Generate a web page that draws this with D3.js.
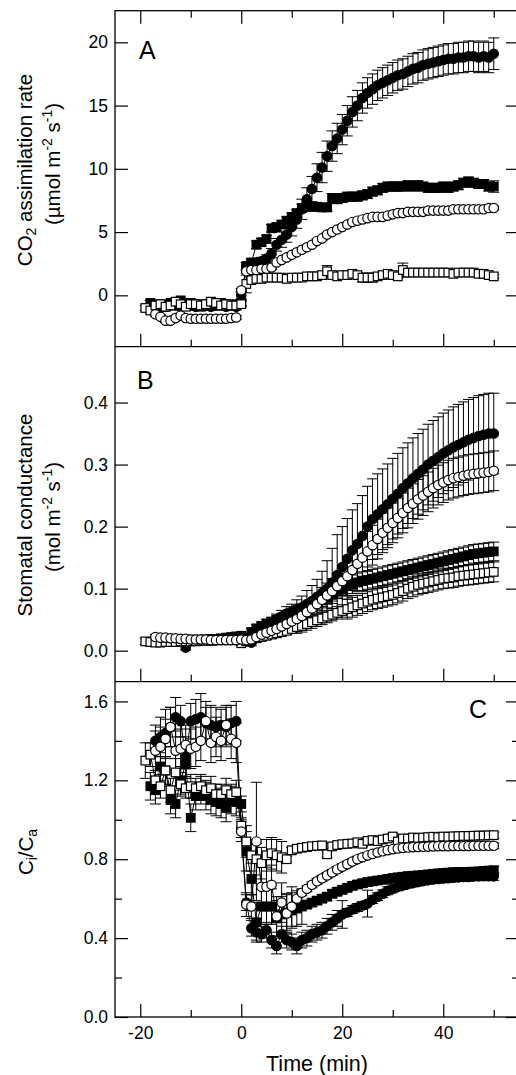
<!DOCTYPE html>
<html><head><meta charset="utf-8">
<script src="https://cdn.jsdelivr.net/npm/d3@7"></script>
<style>body{margin:0;background:#fff}svg{display:block}text{font-family:"Liberation Sans",Arial,sans-serif;fill:#000}</style>
</head><body><svg id="c" width="516" height="1075"></svg>
<script>
// ---- time axis (min) ----
const time = [-19,-18,-17,-16,-15,-14,-13,-12,-11,-10,-9,-8,-7,-6,-5,-4,-3,-2,-1,0,1,2,3,4,5,6,7,8,9,10,11,12,13,14,15,16,17,18,19,20,21,22,23,24,25,26,27,28,29,30,31,32,33,34,35,36,37,38,39,40,41,42,43,44,45,46,47,48,49,50];
const xMajor = [-20,0,20,40];
const xMinor = [-10,10,30,50];

// ---- Panel A: CO2 assimilation rate ----
const aTicks = [0,5,10,15,20];
const a_fc = [null,null,-0.9,-1.0,-0.9,-0.8,-0.8,-0.9,-0.7,-0.8,-0.9,-0.8,-0.8,-0.9,-0.8,-0.8,-0.9,-0.8,-0.9,0.0,
 2.3,2.5,2.6,2.7,2.9,3.3,4.0,4.4,4.8,5.4,6.0,6.8,7.6,8.4,9.3,10.1,11.0,11.8,12.4,13.1,13.8,14.5,15.0,15.6,16.0,16.3,16.6,16.8,17.0,17.2,17.4,17.5,17.7,17.9,18.0,18.2,18.3,18.4,18.5,18.6,18.7,18.7,18.8,18.8,18.9,18.9,18.8,18.9,18.8,19.1];
const a_fc_se = [null,null,0.25,0.25,0.25,0.25,0.25,0.25,0.25,0.25,0.25,0.25,0.25,0.25,0.25,0.25,0.25,0.25,0.25,0.3,
 0.3,0.3,0.3,0.3,0.3,0.4,0.5,0.6,0.6,0.7,0.7,0.8,0.9,1.0,1.1,1.2,1.2,1.2,1.2,1.2,1.2,1.2,1.2,1.2,1.2,1.2,1.2,1.2,1.2,1.2,1.2,1.2,1.2,1.2,1.2,1.2,1.2,1.2,1.2,1.2,1.2,1.2,1.2,1.2,1.2,1.2,1.2,1.2,1.2,1.25];
const a_fs = [null,-0.6,-0.8,-0.7,-0.9,-0.6,-0.7,-0.4,-0.8,-0.6,-0.7,-0.9,-0.7,-0.6,-0.8,-0.6,-0.7,-0.8,-0.7,-0.6,
 2.3,2.6,4.0,4.2,4.45,5.3,5.4,5.6,5.9,6.2,6.5,6.9,7.0,7.0,7.0,6.95,6.95,7.7,7.6,7.7,7.8,7.8,7.8,7.9,8.0,8.2,8.3,8.5,8.6,8.6,8.6,8.6,8.7,8.6,8.7,8.6,8.5,8.5,8.5,8.6,8.5,8.6,8.7,8.9,9.0,8.9,8.8,8.8,8.6,8.6];
const a_fs_se = [null,0.2,0.2,0.2,0.2,0.2,0.2,0.2,0.2,0.2,0.2,0.2,0.2,0.2,0.2,0.2,0.2,0.2,0.2,0.2,
 0.3,0.3,0.3,0.3,0.3,0.3,0.3,0.3,0.3,0.3,0.3,0.3,0.3,0.3,0.3,0.3,0.3,0.35,0.35,0.35,0.35,0.35,0.35,0.35,0.35,0.35,0.35,0.35,0.35,0.35,0.35,0.35,0.35,0.35,0.35,0.35,0.35,0.35,0.35,0.35,0.35,0.35,0.35,0.35,0.35,0.35,0.35,0.35,0.35,0.45];
const a_os = [-1.0,-1.2,-0.8,-0.7,-0.9,-0.8,-0.5,-0.7,-0.9,-0.7,-0.7,-0.8,-0.7,-0.5,-0.6,-0.8,-0.7,-0.8,-0.8,-0.7,
 0.9,1.2,1.3,1.3,1.4,1.4,1.4,1.4,1.3,1.4,1.4,1.4,1.5,1.5,1.5,1.6,1.9,1.6,1.5,1.6,1.6,1.7,1.6,1.4,1.4,1.4,1.5,1.6,1.7,1.6,1.5,2.0,1.8,1.8,1.8,1.8,1.8,1.8,1.8,1.8,1.8,1.7,1.8,1.8,1.8,1.8,1.7,1.7,1.6,1.5];
const a_os_se = [0.2,0.2,0.2,0.2,0.2,0.2,0.2,0.2,0.2,0.2,0.2,0.2,0.2,0.2,0.2,0.2,0.2,0.2,0.2,0.2,
 0.7,0.15,0.15,0.15,0.15,0.15,0.15,0.15,0.15,0.15,0.15,0.15,0.15,0.15,0.15,0.15,0.45,0.15,0.15,0.15,0.15,0.15,0.15,0.35,0.35,0.35,0.15,0.15,0.15,0.15,0.15,0.55,0.15,0.15,0.15,0.15,0.15,0.15,0.15,0.15,0.15,0.15,0.25,0.15,0.15,0.15,0.15,0.15,0.15,0.15];
const a_oc = [null,null,-1.5,-1.7,-2.0,-2.0,-1.8,-1.6,-1.8,-1.85,-1.85,-1.85,-1.85,-1.85,-1.85,-1.85,-1.85,-1.8,-1.75,0.4,
 1.9,2.0,2.0,2.1,2.1,2.2,2.6,2.8,3.0,3.2,3.4,3.6,3.8,4.0,4.3,4.5,4.8,5.0,5.2,5.4,5.6,5.8,5.9,6.0,6.1,6.2,6.2,6.2,6.3,6.4,6.5,6.5,6.6,6.6,6.6,6.6,6.7,6.7,6.7,6.7,6.7,6.8,6.8,6.8,6.8,6.8,6.8,6.8,6.9,6.9];
const a_oc_se = [null,null,0.15,0.15,0.15,0.15,0.15,0.15,0.15,0.15,0.15,0.15,0.15,0.15,0.15,0.15,0.15,0.15,0.15,0.15,
 0.15,0.15,0.15,0.15,0.15,0.15,0.15,0.15,0.15,0.15,0.15,0.15,0.15,0.15,0.15,0.15,0.15,0.15,0.15,0.15,0.15,0.15,0.15,0.15,0.15,0.15,0.15,0.15,0.15,0.15,0.15,0.15,0.15,0.15,0.15,0.15,0.15,0.15,0.15,0.15,0.15,0.15,0.15,0.15,0.15,0.15,0.15,0.15,0.15,0.15];

// ---- Panel B: stomatal conductance ----
const bTicks = [0,0.1,0.2,0.3,0.4];
const b_fc = [null,null,0.018,0.018,0.017,0.017,0.016,0.016,0.005,0.016,0.016,0.016,0.017,0.017,0.017,0.018,0.018,0.019,0.02,0.018,
 0.015,0.013,0.03,0.035,0.04,0.045,0.05,0.055,0.06,0.063,0.067,0.07,0.075,0.08,0.087,0.093,0.1,0.11,0.122,0.135,0.148,0.162,0.172,0.185,0.2,0.212,0.22,0.228,0.236,0.245,0.253,0.262,0.27,0.278,0.285,0.292,0.3,0.306,0.312,0.318,0.323,0.328,0.332,0.336,0.34,0.343,0.346,0.348,0.35,0.35];
const b_fc_se = [null,null,0.004,0.004,0.004,0.004,0.004,0.004,0.004,0.004,0.004,0.004,0.004,0.004,0.004,0.004,0.004,0.004,0.004,0.005,
 0.005,0.005,0.005,0.005,0.005,0.008,0.009,0.01,0.011,0.012,0.015,0.018,0.022,0.025,0.028,0.035,0.045,0.055,0.065,0.065,0.065,0.065,0.065,0.065,0.065,0.065,0.065,0.065,0.065,0.065,0.065,0.065,0.065,0.065,0.065,0.065,0.065,0.065,0.065,0.065,0.065,0.065,0.065,0.065,0.065,0.065,0.065,0.065,0.065,0.065];
const b_fs = [null,0.014,0.015,0.016,0.015,0.016,0.017,0.016,0.017,0.018,0.017,0.018,0.018,0.019,0.019,0.02,0.021,0.022,0.023,0.024,
 0.02,0.03,0.036,0.04,0.044,0.047,0.05,0.053,0.056,0.059,0.062,0.065,0.069,0.073,0.077,0.081,0.085,0.09,0.095,0.1,0.104,0.107,0.11,0.112,0.114,0.116,0.118,0.12,0.122,0.124,0.126,0.128,0.13,0.132,0.134,0.136,0.138,0.14,0.142,0.144,0.146,0.148,0.15,0.152,0.154,0.156,0.157,0.158,0.159,0.16];
const b_fs_se = [null,0.004,0.004,0.004,0.004,0.004,0.004,0.004,0.004,0.004,0.004,0.004,0.004,0.004,0.004,0.004,0.004,0.004,0.004,0.004,
 0.006,0.006,0.006,0.006,0.006,0.006,0.006,0.006,0.006,0.006,0.01,0.01,0.01,0.01,0.01,0.01,0.01,0.01,0.01,0.01,0.015,0.015,0.015,0.015,0.015,0.015,0.015,0.015,0.015,0.015,0.015,0.015,0.015,0.015,0.015,0.015,0.015,0.015,0.015,0.015,0.015,0.015,0.015,0.015,0.015,0.015,0.015,0.015,0.015,0.015];
const b_os = [0.015,0.014,0.013,0.013,0.014,0.014,0.014,0.015,0.015,0.015,0.015,0.016,0.016,0.016,0.017,0.017,0.017,0.018,0.018,0.012,
 0.015,0.018,0.02,0.022,0.024,0.026,0.028,0.03,0.032,0.035,0.038,0.04,0.043,0.046,0.049,0.052,0.055,0.058,0.061,0.064,0.067,0.07,0.073,0.076,0.079,0.082,0.084,0.086,0.088,0.09,0.093,0.096,0.1,0.103,0.106,0.108,0.11,0.112,0.114,0.116,0.117,0.118,0.12,0.121,0.122,0.123,0.124,0.125,0.126,0.127];
const b_os_se = [0.005,0.005,0.005,0.005,0.005,0.005,0.005,0.005,0.005,0.005,0.005,0.005,0.005,0.005,0.005,0.005,0.005,0.005,0.005,0.004,
 0.006,0.006,0.006,0.006,0.006,0.006,0.006,0.006,0.006,0.006,0.01,0.01,0.01,0.01,0.01,0.01,0.01,0.01,0.01,0.01,0.016,0.016,0.016,0.016,0.016,0.016,0.016,0.016,0.016,0.016,0.016,0.016,0.016,0.016,0.016,0.016,0.016,0.016,0.016,0.016,0.016,0.016,0.016,0.016,0.016,0.016,0.016,0.016,0.016,0.016];
const b_oc = [null,null,0.022,0.021,0.021,0.02,0.02,0.019,0.019,0.018,0.018,0.018,0.018,0.017,0.017,0.017,0.017,0.017,0.017,0.018,
 0.017,0.018,0.022,0.026,0.029,0.032,0.035,0.039,0.043,0.047,0.051,0.056,0.062,0.068,0.075,0.082,0.089,0.096,0.104,0.112,0.12,0.13,0.14,0.15,0.16,0.17,0.18,0.19,0.198,0.206,0.214,0.222,0.23,0.237,0.244,0.25,0.256,0.262,0.267,0.271,0.275,0.278,0.28,0.282,0.284,0.285,0.286,0.287,0.288,0.29];
const b_oc_se = [null,null,0.004,0.004,0.004,0.004,0.004,0.004,0.004,0.004,0.004,0.004,0.004,0.004,0.004,0.004,0.004,0.004,0.004,0.004,
 0.005,0.005,0.005,0.005,0.005,0.005,0.005,0.005,0.005,0.005,0.01,0.01,0.01,0.01,0.01,0.02,0.02,0.02,0.02,0.02,0.032,0.032,0.032,0.032,0.032,0.032,0.032,0.032,0.032,0.032,0.032,0.032,0.032,0.032,0.032,0.032,0.032,0.032,0.032,0.032,0.032,0.032,0.032,0.032,0.032,0.032,0.032,0.032,0.032,0.032];

// ---- Panel C: Ci/Ca ----
const cTicks = [0,0.4,0.8,1.2,1.6];
const cMinor = [0.2,0.6,1.0,1.4];
const c_fc = [null,null,1.40,1.42,1.44,1.47,1.52,1.50,1.32,1.50,1.51,1.52,1.49,1.48,1.47,1.48,1.47,1.49,1.50,0.96,
 0.58,0.45,0.43,0.42,0.44,0.39,0.36,0.42,0.39,0.38,0.36,0.39,0.4,0.42,0.43,0.44,0.46,0.48,0.5,0.52,0.53,0.545,0.555,0.565,0.575,0.595,0.61,0.625,0.64,0.65,0.66,0.667,0.674,0.68,0.685,0.69,0.694,0.697,0.7,0.702,0.704,0.706,0.708,0.71,0.71,0.712,0.713,0.714,0.714,0.713];
const c_fc_se = [null,null,0.08,0.1,0.12,0.1,0.1,0.08,0.1,0.09,0.1,0.12,0.08,0.1,0.1,0.08,0.1,0.09,0.1,0.05,
 0.04,0.04,0.04,0.04,0.04,0.04,0.04,0.04,0.04,0.04,0.04,0.04,0.04,0.04,0.04,0.04,0.04,0.04,0.04,0.07,0.02,0.02,0.02,0.02,0.068,0.02,0.02,0.02,0.02,0.02,0.02,0.02,0.02,0.02,0.02,0.02,0.02,0.02,0.02,0.02,0.02,0.02,0.02,0.02,0.02,0.02,0.02,0.02,0.02,0.02];
const c_fs = [null,1.17,1.15,1.27,1.25,1.1,1.08,1.2,1.28,1.01,1.12,1.15,1.12,1.1,1.09,1.08,1.06,1.1,1.09,1.08,
 0.84,0.7,0.48,0.56,0.56,0.56,0.5,0.52,0.53,0.54,0.55,0.56,0.57,0.58,0.59,0.6,0.61,0.625,0.635,0.645,0.655,0.665,0.672,0.678,0.684,0.688,0.692,0.696,0.7,0.704,0.708,0.711,0.714,0.716,0.718,0.72,0.723,0.726,0.728,0.73,0.732,0.734,0.735,0.735,0.736,0.737,0.738,0.74,0.742,0.744];
const c_fs_se = [null,0.07,0.07,0.07,0.07,0.07,0.07,0.07,0.07,0.07,0.07,0.07,0.07,0.07,0.07,0.07,0.07,0.07,0.07,0.04,
 0.1,0.08,0.1,0.09,0.09,0.09,0.09,0.09,0.09,0.09,0.09,0.09,0.02,0.02,0.02,0.02,0.02,0.02,0.02,0.02,0.02,0.02,0.02,0.02,0.02,0.02,0.02,0.02,0.02,0.02,0.02,0.02,0.02,0.02,0.02,0.02,0.02,0.02,0.02,0.02,0.02,0.02,0.02,0.02,0.02,0.02,0.02,0.02,0.02,0.02];
const c_os = [1.3,1.33,1.2,1.17,1.25,1.15,1.24,1.18,1.16,1.17,1.16,1.17,1.15,1.16,1.13,1.13,1.15,1.13,1.14,0.97,
 0.89,0.82,0.8,0.78,0.82,0.83,0.82,0.81,0.8,0.845,0.853,0.858,0.862,0.866,0.868,0.87,0.825,0.865,0.872,0.876,0.878,0.88,0.886,0.878,0.893,0.897,0.892,0.9,0.905,0.915,0.89,0.905,0.905,0.91,0.908,0.91,0.912,0.914,0.912,0.915,0.914,0.916,0.917,0.918,0.918,0.919,0.92,0.92,0.921,0.922];
const c_os_se = [0.09,0.06,0.07,0.06,0.07,0.06,0.07,0.06,0.05,0.06,0.05,0.06,0.05,0.06,0.05,0.05,0.06,0.05,0.06,0.03,
 0.08,0.08,0.08,0.08,0.08,0.08,0.08,0.08,0.015,0.015,0.015,0.015,0.015,0.015,0.015,0.015,0.015,0.015,0.015,0.015,0.015,0.015,0.015,0.015,0.015,0.015,0.015,0.015,0.015,0.015,0.015,0.015,0.015,0.015,0.015,0.015,0.015,0.015,0.015,0.015,0.015,0.015,0.015,0.015,0.015,0.015,0.015,0.015,0.015,0.015];
const c_oc = [null,null,1.35,1.37,1.41,1.47,1.35,1.36,1.38,1.36,1.37,1.4,1.5,1.39,1.42,1.4,1.48,1.41,1.39,0.94,
 0.57,0.56,0.89,0.66,0.66,0.67,0.51,0.58,0.525,0.56,0.6,0.63,0.65,0.67,0.688,0.703,0.718,0.733,0.748,0.762,0.775,0.788,0.8,0.81,0.819,0.827,0.834,0.84,0.846,0.851,0.854,0.857,0.859,0.861,0.862,0.863,0.864,0.865,0.866,0.866,0.866,0.867,0.867,0.867,0.867,0.868,0.868,0.868,0.868,0.868];
const c_oc_se = [null,null,0.1,0.1,0.1,0.1,0.1,0.1,0.1,0.1,0.1,0.1,0.1,0.1,0.1,0.1,0.1,0.1,0.1,0.05,
 0.06,0.06,0.3,0.1,0.1,0.1,0.1,0.1,0.1,0.1,0.015,0.015,0.015,0.015,0.015,0.015,0.015,0.015,0.015,0.015,0.015,0.015,0.015,0.015,0.015,0.015,0.015,0.015,0.015,0.015,0.015,0.015,0.015,0.015,0.015,0.015,0.015,0.015,0.015,0.015,0.015,0.015,0.015,0.015,0.015,0.015,0.015,0.015,0.015,0.015];

// ---------------- drawing ----------------
const svg = d3.select("#c");
const L = 115, R = 519;
const x = d3.scaleLinear().domain([-25, 55]).range([L, R]);
const FONT_TICK = 17.5, FONT_TITLE = 20.5;

const shapes = [
  {key:"fc", shape:"circle", fill:"#000"},
  {key:"fs", shape:"square", fill:"#000"},
  {key:"os", shape:"square", fill:"#fff"},
  {key:"oc", shape:"circle", fill:"#fff"}
];

const panels = [
  {top:10.7, bottom:346.7, domain:[-4.06, 22.5], ticks:aTicks, minor:[], fmt:d=>String(d),
   data:{fc:[a_fc,a_fc_se], fs:[a_fs,a_fs_se], os:[a_os,a_os_se], oc:[a_oc,a_oc_se]},
   letter:"A", lx:139, ly:59, topTicks:true},
  {top:346.7, bottom:681.7, domain:[-0.05, 0.49], ticks:bTicks, minor:[], fmt:d3.format(".1f"),
   data:{fc:[b_fc,b_fc_se], fs:[b_fs,b_fs_se], os:[b_os,b_os_se], oc:[b_oc,b_oc_se]},
   letter:"B", lx:137, ly:389, topTicks:false},
  {top:681.7, bottom:1017, domain:[0, 1.7], ticks:cTicks, minor:cMinor, fmt:d3.format(".1f"),
   data:{fc:[c_fc,c_fc_se], fs:[c_fs,c_fs_se], os:[c_os,c_os_se], oc:[c_oc,c_oc_se]},
   letter:"C", lx:469, ly:718, topTicks:false}
];

function styleAxis(g){
  g.select(".domain").remove();
  g.selectAll("line").attr("stroke","#000").attr("stroke-width",1.2);
  g.selectAll("text").attr("font-size",FONT_TICK).attr("font-family",'"Liberation Sans",Arial,sans-serif').attr("fill","#000");
}

panels.forEach((p, pi) => {
  const y = d3.scaleLinear().domain(p.domain).range([p.bottom, p.top]);
  const g = svg.append("g");

  g.append("g").attr("transform",`translate(${L},0)`)
    .call(d3.axisLeft(y).tickValues(p.ticks).tickFormat(p.fmt).tickSize(-13).tickPadding(7)).call(styleAxis);
  if (p.minor.length) g.append("g").attr("transform",`translate(${L},0)`)
    .call(d3.axisLeft(y).tickValues(p.minor).tickFormat("").tickSize(-7)).call(styleAxis);
  g.append("g").attr("transform",`translate(${R},0)`)
    .call(d3.axisRight(y).tickValues(p.ticks).tickFormat("").tickSize(-13)).call(styleAxis);
  if (p.minor.length) g.append("g").attr("transform",`translate(${R},0)`)
    .call(d3.axisRight(y).tickValues(p.minor).tickFormat("").tickSize(-7)).call(styleAxis);

  const last = pi === panels.length - 1;
  g.append("g").attr("transform",`translate(0,${p.bottom})`)
    .call(d3.axisBottom(x).tickValues(xMajor).tickFormat(last ? (d=>String(d)) : "").tickSize(-13).tickPadding(10)).call(styleAxis);
  g.append("g").attr("transform",`translate(0,${p.bottom})`)
    .call(d3.axisBottom(x).tickValues(xMinor).tickFormat("").tickSize(-7)).call(styleAxis);
  if (p.topTicks) {
    g.append("g").attr("transform",`translate(0,${p.top})`)
      .call(d3.axisTop(x).tickValues(xMajor).tickFormat("").tickSize(-13)).call(styleAxis);
    g.append("g").attr("transform",`translate(0,${p.top})`)
      .call(d3.axisTop(x).tickValues(xMinor).tickFormat("").tickSize(-7)).call(styleAxis);
  }

  const rows = {};
  shapes.forEach(s => {
    const [vals, se] = p.data[s.key];
    rows[s.key] = time.map((t,i) => ({t, v:vals[i], e:se[i]})).filter(d => d.v != null);
  });
  shapes.forEach(s => {
    const eg = g.append("g").attr("stroke","#000").attr("stroke-width",1);
    rows[s.key].forEach(d => {
      const cx = x(d.t), y1 = y(d.v + d.e), y2 = y(d.v - d.e);
      eg.append("line").attr("x1",cx).attr("x2",cx).attr("y1",y1).attr("y2",y2);
      eg.append("line").attr("x1",cx-5.5).attr("x2",cx+5.5).attr("y1",y1).attr("y2",y1);
      eg.append("line").attr("x1",cx-5.5).attr("x2",cx+5.5).attr("y1",y2).attr("y2",y2);
    });
  });
  shapes.forEach(s => {
    g.append("path").datum(rows[s.key])
      .attr("d", d3.line().x(d=>x(d.t)).y(d=>y(d.v)))
      .attr("fill","none").attr("stroke","#000").attr("stroke-width",1);
  });
  shapes.forEach(s => {
    const mg = g.append("g");
    if (s.shape === "circle") {
      mg.selectAll("circle").data(rows[s.key]).join("circle")
        .attr("cx",d=>x(d.t)).attr("cy",d=>y(d.v)).attr("r",4.7)
        .attr("fill",s.fill).attr("stroke","#000").attr("stroke-width",1.2);
    } else {
      mg.selectAll("rect").data(rows[s.key]).join("rect")
        .attr("x",d=>x(d.t)-4.3).attr("y",d=>y(d.v)-4.3).attr("width",8.6).attr("height",8.6)
        .attr("fill",s.fill).attr("stroke","#000").attr("stroke-width",1.2);
    }
  });

  svg.append("text").attr("x",p.lx).attr("y",p.ly).attr("font-size",25).text(p.letter);
});

const fr = svg.append("g").attr("stroke","#000").attr("stroke-width",1.3).attr("fill","none");
fr.append("rect").attr("x",L).attr("y",panels[0].top).attr("width",R-L).attr("height",panels[2].bottom-panels[0].top);
fr.append("line").attr("x1",L).attr("x2",R).attr("y1",panels[1].top).attr("y2",panels[1].top);
fr.append("line").attr("x1",L).attr("x2",R).attr("y1",panels[2].top).attr("y2",panels[2].top);

function title(tx, ty, parts){
  const t = svg.append("text").attr("transform",`translate(${tx},${ty}) rotate(-90)`)
    .attr("text-anchor","middle").attr("font-size",FONT_TITLE);
  parts.forEach(([s, kind]) => {
    const sp = t.append("tspan").text(s);
    if (kind === "sub") sp.attr("font-size",FONT_TITLE*0.68).attr("dy","0.32em");
    if (kind === "sup") sp.attr("font-size",FONT_TITLE*0.68).attr("dy","-0.55em");
    if (kind === "after-sub") sp.attr("dy","-0.22em");
    if (kind === "after-sup") sp.attr("dy","0.37em");
  });
}
title(32, 170, [["CO"],["2","sub"],[" assimilation rate","after-sub"]]);
title(60, 164, [["(µmol m"],["-2","sup"],[" s","after-sup"],["-1","sup"],[")","after-sup"]]);
title(32, 515, [["Stomatal conductance"]]);
title(60, 517, [["(mol m"],["-2","sup"],[" s","after-sup"],["-1","sup"],[")","after-sup"]]);
title(33, 852, [["C"],["i","sub"],["/C","after-sub"],["a","sub"]]);

svg.append("text").attr("x",(L+R)/2).attr("y",1071).attr("text-anchor","middle")
  .attr("font-size",21.5).text("Time (min)");
</script>
</body></html>
